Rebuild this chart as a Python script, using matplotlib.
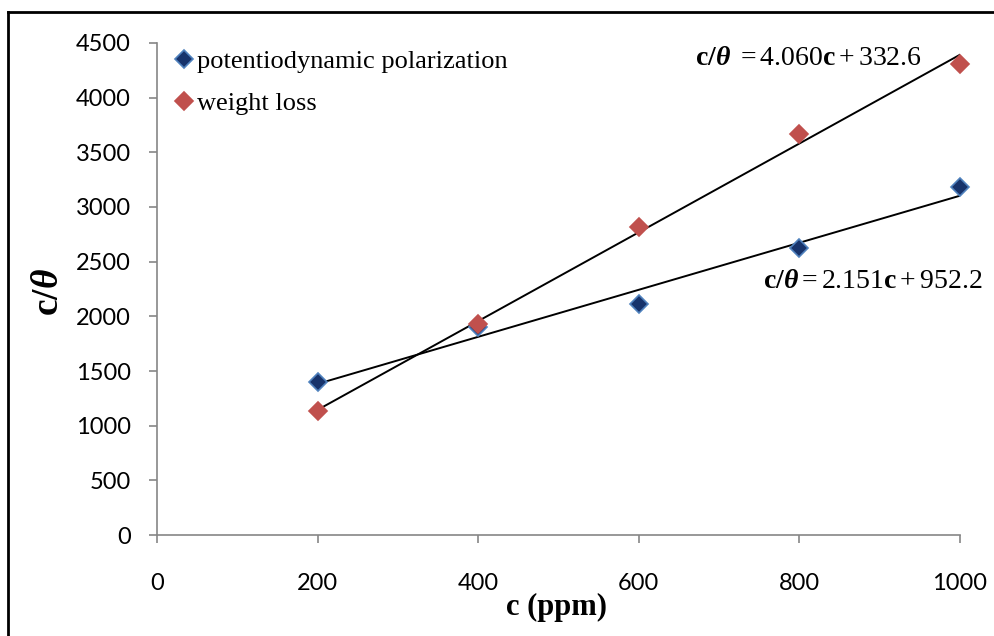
import numpy as np
import matplotlib
matplotlib.use("Agg")
import matplotlib.pyplot as plt
from matplotlib.lines import Line2D

plt.rcParams['mathtext.fontset'] = 'custom'
plt.rcParams['mathtext.rm'] = 'Liberation Serif'
plt.rcParams['mathtext.it'] = 'Liberation Serif:italic'
plt.rcParams['mathtext.bf'] = 'Liberation Serif:bold'
plt.rcParams['mathtext.bfit'] = 'Liberation Serif:italic:bold'

# data
c = [200, 400, 600, 800, 1000]
pdp = [1398, 1905, 2112, 2625, 3182]      # potentiodynamic polarization
wl = [1132, 1928, 2816, 3668, 4308]       # weight loss

# trendlines as printed on the chart
fit_pdp = (2.151, 952.2)
fit_wl = (4.060, 332.6)

xticks = [0, 200, 400, 600, 800, 1000]
yticks = [0, 500, 1000, 1500, 2000, 2500, 3000, 3500, 4000, 4500]

fig = plt.figure(figsize=(9.95, 6.36), dpi=100)
ax = fig.add_axes([0.1578, 0.1588, 0.807, 0.7736])

ax.plot(c, pdp, ls='none', marker='D', ms=9, mfc='#17336b', mec='#4f81bd',
        mew=1.2, label='potentiodynamic polarization', zorder=3, clip_on=False)
ax.plot(c, wl, ls='none', marker='D', ms=9, mfc='#c0504d', mec='#c0504d',
        mew=1.2, label='weight loss', zorder=3, clip_on=False)

xx = np.array([c[0], c[-1]])
ax.plot(xx, fit_pdp[0] * xx + fit_pdp[1], color='black', lw=1.4, zorder=2)
ax.plot(xx, fit_wl[0] * xx + fit_wl[1], color='black', lw=1.4, zorder=2)

ax.text(670, 4368, r'$\mathbf{c/}\mathbfit{\theta}\ = 4.060\mathbf{c} + 332.6$',
        fontsize=20, va='center', ha='left')
ax.text(755, 2330, r'$\mathbf{c/}\mathbfit{\theta} = 2.151\mathbf{c} + 952.2$',
        fontsize=20, va='center', ha='left')

ax.set_xlim(0, 1000)
ax.set_ylim(0, 4500)
ax.set_xticks(xticks)
ax.set_yticks(yticks)
ax.tick_params(direction='out', length=6, width=1.2, color='#868686',
               labelsize=17, labelfontfamily='Lato')
ax.tick_params(axis='x', pad=21)
ax.tick_params(axis='y', pad=13)
for s in ['top', 'right']:
    ax.spines[s].set_visible(False)
for s in ['left', 'bottom']:
    ax.spines[s].set_color('#868686')
    ax.spines[s].set_linewidth(1.2)

ax.set_xlabel('c (ppm)', fontsize=22, fontweight='bold', family='Liberation Serif')
ax.xaxis.set_label_coords(0.497, -0.118)
ax.set_ylabel(r'$\mathbf{c/}\mathbfit{\theta}$', fontsize=27)
ax.yaxis.set_label_coords(-0.113, 0.494)

leg = ax.legend(loc='upper left', bbox_to_anchor=(0.004, 1.019), frameon=False,
                prop={'family': 'Liberation Serif', 'size': 19},
                handlelength=0.6, handletextpad=0.2, labelspacing=0.72,
                borderaxespad=0.2)

# outer border of the chart area (cropped at right and bottom)
fig.add_artist(Line2D([0.0085, 0.0085], [0, 0.981], color='black', lw=2,
                      transform=fig.transFigure))
fig.add_artist(Line2D([0.0085, 1], [0.981, 0.981], color='black', lw=2,
                      transform=fig.transFigure))

fig.savefig('out.png', dpi=100)
